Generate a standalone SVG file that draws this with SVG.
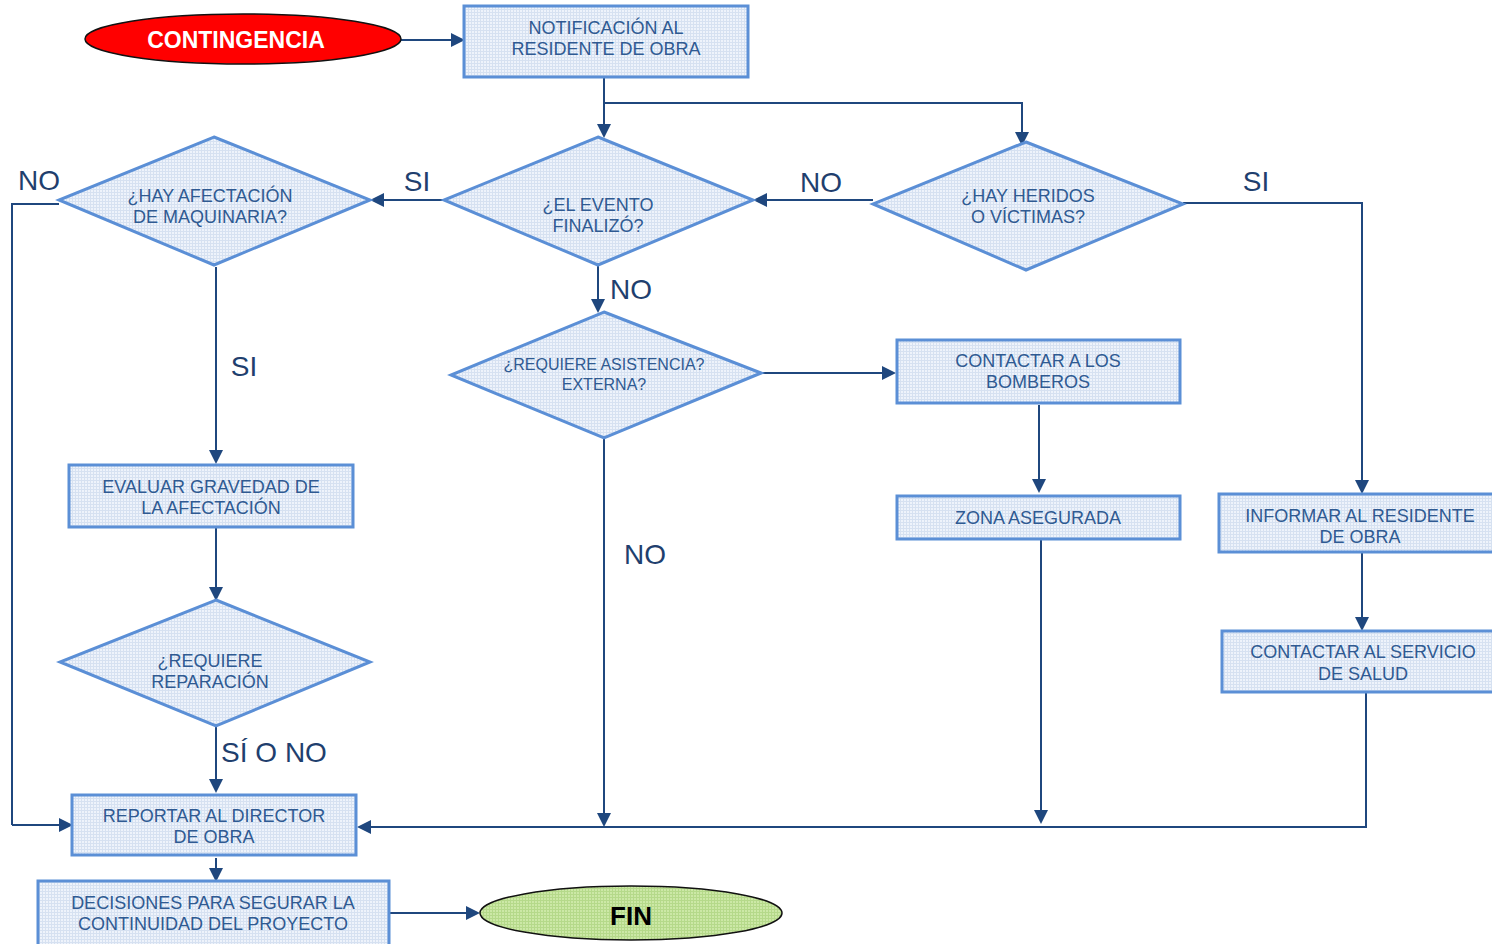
<svg xmlns="http://www.w3.org/2000/svg" width="1492" height="944" viewBox="0 0 1492 944">
<defs>
<marker id="ah" markerWidth="14" markerHeight="14" refX="12" refY="7" orient="auto" markerUnits="userSpaceOnUse">
<path d="M0,0 L14,7 L0,14 Z" fill="#1f477e"/>
</marker>
<pattern id="grid" width="3" height="3" patternUnits="userSpaceOnUse">
<rect width="3" height="3" fill="#eef3fb"/>
<rect width="3" height="1" fill="#d6e1f1"/>
<rect width="1" height="3" fill="#d6e1f1"/>
</pattern>
<pattern id="ggrid" width="3" height="3" patternUnits="userSpaceOnUse">
<rect width="3" height="3" fill="#cce8a6"/>
<rect width="3" height="1" fill="#b5d98a"/>
<rect width="1" height="3" fill="#b5d98a"/>
</pattern>
</defs>
<style>
.box{fill:url(#grid);stroke:#5b8fd6;stroke-width:3}
.dia{fill:url(#grid);stroke:#5b8fd6;stroke-width:3}
.t{font-family:"Liberation Sans",Arial,sans-serif;font-size:18px;fill:#2f5a92;text-anchor:middle}
.ts{font-family:"Liberation Sans",Arial,sans-serif;font-size:16px;fill:#2f5a92;text-anchor:middle}
.lbl{font-family:"Liberation Sans",Arial,sans-serif;font-size:28px;fill:#1f3f6e;text-anchor:middle}
.c{fill:none;stroke:#1f477e;stroke-width:2}
.ca{fill:none;stroke:#1f477e;stroke-width:2;marker-end:url(#ah)}
</style>
<rect width="1492" height="944" fill="#ffffff"/>

<g id="connectors">
<path class="ca" d="M401,40 H463"/>
<path class="ca" d="M604,77 V136"/>
<path class="ca" d="M604,103 H1022 V144"/>
<path class="ca" d="M873,200 H755"/>
<path class="ca" d="M444,200 H372"/>
<path class="ca" d="M1183,203 H1362 V492"/>
<path class="c" d="M59,204 H12 V825"/>
<path class="ca" d="M12,825 H71"/>
<path class="ca" d="M216,267 V462"/>
<path class="ca" d="M216,527 V599"/>
<path class="ca" d="M216,726 V791"/>
<path class="ca" d="M216,858 V880"/>
<path class="ca" d="M389,913 H478"/>
<path class="ca" d="M598,265 V311"/>
<path class="ca" d="M761,373 H894"/>
<path class="ca" d="M1039,405 V491"/>
<path class="ca" d="M1041,539 V822"/>
<path class="ca" d="M604,438 V825"/>
<path class="ca" d="M1362,552 V629"/>
<path class="ca" d="M1366,692 V827 H359"/>
<text class="lbl" x="821" y="192">NO</text>
<text class="lbl" x="1256" y="191">SI</text>
<text class="lbl" x="417" y="191">SI</text>
<text class="lbl" x="39" y="190">NO</text>
<text class="lbl" x="244" y="376">SI</text>
<text class="lbl" x="274" y="762">SÍ O NO</text>
<text class="lbl" x="631" y="299">NO</text>
<text class="lbl" x="645" y="564">NO</text>
</g>

<g id="contingencia">
<ellipse cx="243" cy="39" rx="158" ry="25" fill="#ff0000" stroke="#111" stroke-width="1.5"/>
<text x="236" y="48" font-family="Liberation Sans,Arial,sans-serif" font-size="23" font-weight="bold" fill="#ffffff" text-anchor="middle">CONTINGENCIA</text>
</g>

<g id="notificacion">
<rect class="box" x="464" y="6" width="284" height="71"/>
<text class="t" x="606" y="34">NOTIFICACIÓN AL</text>
<text class="t" x="606" y="55">RESIDENTE DE OBRA</text>
</g>

<g id="evento_finalizo">
<polygon class="dia" points="598,137 753,200 598,265 444,200"/>
<text class="t" x="598" y="211">¿EL EVENTO</text>
<text class="t" x="598" y="232">FINALIZÓ?</text>
</g>

<g id="heridos">
<polygon class="dia" points="1026,142 1183,204 1026,270 873,204"/>
<text class="t" x="1028" y="202">¿HAY HERIDOS</text>
<text class="t" x="1028" y="223">O VÍCTIMAS?</text>
</g>

<g id="maquinaria">
<polygon class="dia" points="214,137 370,200 214,265 59,200"/>
<text class="t" x="210" y="202">¿HAY AFECTACIÓN</text>
<text class="t" x="210" y="223">DE MAQUINARIA?</text>
</g>

<g id="evaluar">
<rect class="box" x="69" y="465" width="284" height="62"/>
<text class="t" x="211" y="493">EVALUAR GRAVEDAD DE</text>
<text class="t" x="211" y="514">LA AFECTACIÓN</text>
</g>

<g id="reparacion">
<polygon class="dia" points="216,600 370,662 216,726 60,662"/>
<text class="t" x="210" y="667">¿REQUIERE</text>
<text class="t" x="210" y="688">REPARACIÓN</text>
</g>

<g id="reportar">
<rect class="box" x="72" y="795" width="284" height="60"/>
<text class="t" x="214" y="822">REPORTAR AL DIRECTOR</text>
<text class="t" x="214" y="843">DE OBRA</text>
</g>

<g id="decisiones">
<rect class="box" x="38" y="881" width="351" height="66"/>
<text class="t" x="213" y="909">DECISIONES PARA SEGURAR LA</text>
<text class="t" x="213" y="930">CONTINUIDAD DEL PROYECTO</text>
</g>

<g id="fin">
<ellipse cx="631" cy="913" rx="151" ry="27" fill="url(#ggrid)" stroke="#111" stroke-width="1.5"/>
<text x="631" y="925" font-family="Liberation Sans,Arial,sans-serif" font-size="26" font-weight="bold" fill="#000" text-anchor="middle">FIN</text>
</g>

<g id="asistencia">
<polygon class="dia" points="604,312 761,373 604,438 451,375"/>
<text class="ts" x="604" y="370">¿REQUIERE ASISTENCIA?</text>
<text class="ts" x="604" y="390">EXTERNA?</text>
</g>

<g id="bomberos">
<rect class="box" x="897" y="340" width="283" height="63"/>
<text class="t" x="1038" y="367">CONTACTAR A LOS</text>
<text class="t" x="1038" y="388">BOMBEROS</text>
</g>

<g id="zona">
<rect class="box" x="897" y="496" width="283" height="43"/>
<text class="t" x="1038" y="524">ZONA ASEGURADA</text>
</g>

<g id="informar">
<rect class="box" x="1219" y="494" width="280" height="58"/>
<text class="t" x="1360" y="522">INFORMAR AL RESIDENTE</text>
<text class="t" x="1360" y="543">DE OBRA</text>
</g>

<g id="salud">
<rect class="box" x="1222" y="631" width="280" height="61"/>
<text class="t" x="1363" y="658">CONTACTAR AL SERVICIO</text>
<text class="t" x="1363" y="680">DE SALUD</text>
</g>
</svg>
